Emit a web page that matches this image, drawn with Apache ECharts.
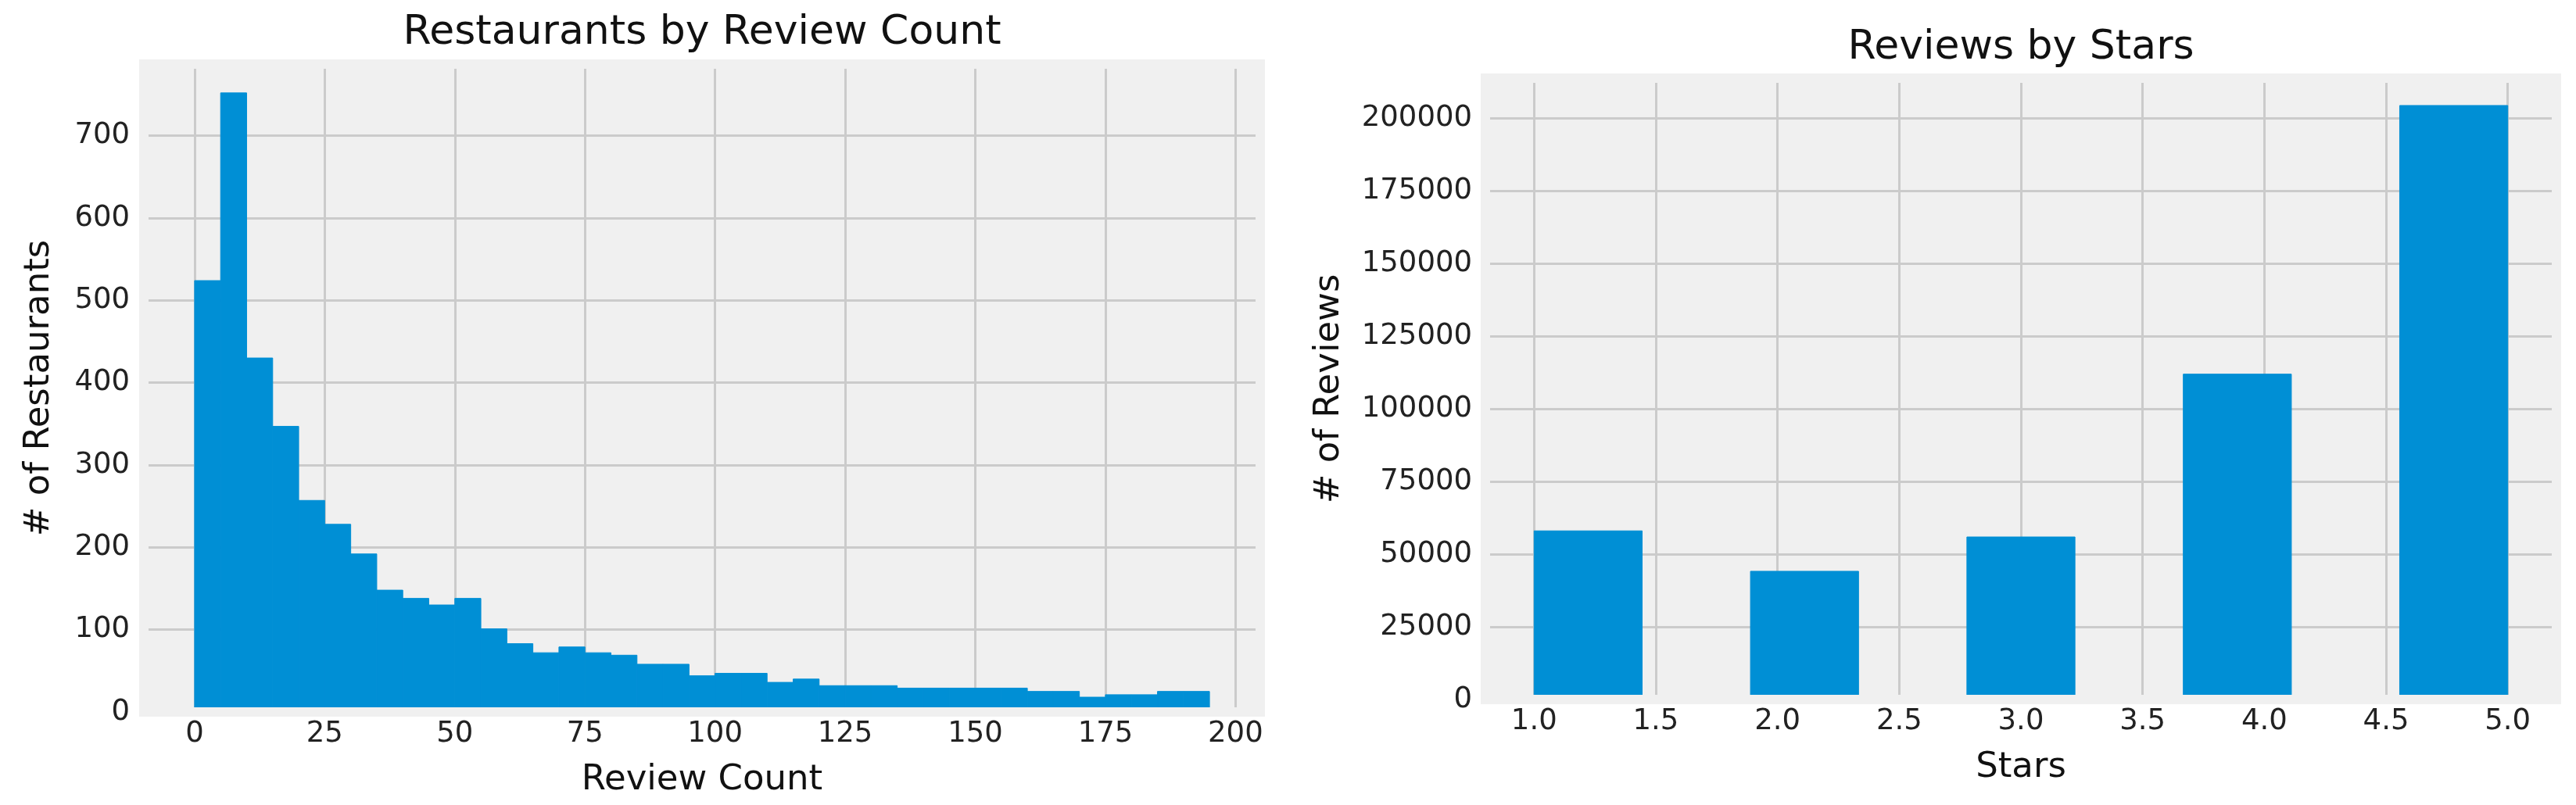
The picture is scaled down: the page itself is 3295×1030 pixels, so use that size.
<!DOCTYPE html>
<html>
<head>
<meta charset="utf-8">
<title>Restaurants by Review Count / Reviews by Stars</title>
<script src="https://cdn.jsdelivr.net/npm/echarts@6/dist/echarts.min.js"></script>
<style>
  html, body { margin: 0; padding: 0; background: #ffffff; }
  #chart { width: 3295px; height: 1030px; }
</style>
</head>
<body>
<div id="chart"></div>
<script>
// left panel: restaurants per review-count bin (bins of 5, 0..195)
const countBinEdges = [0, 5, 10, 15, 20, 25, 30, 35, 40, 45, 50, 55, 60, 65, 70, 75, 80, 85, 90, 95,
  100, 105, 110, 115, 120, 125, 130, 135, 140, 145, 150, 155, 160, 165, 170, 175, 180, 185, 190, 195];
const restaurantsPerBin = [524, 752, 430, 347, 257, 228, 192, 148, 138, 130, 138, 101, 83, 72, 79, 72, 69, 58, 58, 44,
  47, 47, 36, 40, 32, 32, 32, 29, 29, 29, 29, 29, 25, 25, 18, 21, 21, 25, 25];
const countTicks = [0, 25, 50, 75, 100, 125, 150, 175, 200];

// right panel: reviews per star bin (9 bins between 1 and 5)
const starBinEdges = [1, 1.444, 1.889, 2.333, 2.778, 3.222, 3.667, 4.111, 4.556, 5];
const reviewsPerBin = [58000, 0, 44100, 0, 55900, 0, 111900, 0, 204300];
const starTicks = [1.0, 1.5, 2.0, 2.5, 3.0, 3.5, 4.0, 4.5, 5.0];

const BAR = '#008fd5';
const PANEL = '#f0f0f0';
const GRIDLINE = '#cbcbcb';
const FONT = 'DejaVu Sans';

function binRows(edges, counts) {
  return counts.map((c, i) => [edges[i], edges[i + 1], c]);
}

function drawBin(params, api) {
  if (!api.value(2)) return null;
  const topLeft = api.coord([api.value(0), api.value(2)]);
  const bottomRight = api.coord([api.value(1), 0]);
  return {
    type: 'rect',
    shape: {
      x: topLeft[0],
      y: topLeft[1],
      width: bottomRight[0] - topLeft[0],
      height: bottomRight[1] - topLeft[1]
    },
    // same-colour stroke closes the hairline seams between neighbouring bins
    style: { fill: BAR, stroke: BAR, lineWidth: 1 }
  };
}

// thick panel-coloured frame, like the matplotlib spines
function spine(gridIndex, position) {
  return {
    type: 'value', gridIndex: gridIndex, position: position, min: 0, max: 1, z: 10,
    axisLine: { show: true, onZero: false, lineStyle: { color: PANEL, width: 12, cap: 'square' } },
    axisTick: { show: false }, axisLabel: { show: false }, splitLine: { show: false }
  };
}

const tickLabel = { color: '#222', fontFamily: FONT, fontSize: 37 };
const nameStyle = { color: '#111', fontFamily: FONT, fontSize: 45 };
const split = { show: true, lineStyle: { color: GRIDLINE, width: 3 } };

const chart = echarts.init(document.getElementById('chart'));
chart.setOption({
  backgroundColor: '#ffffff',
  animation: false,
  title: [
    { text: 'Restaurants by Review Count', left: 898, top: 42, padding: 0,
      textAlign: 'center', textVerticalAlign: 'middle',
      textStyle: { fontFamily: FONT, fontSize: 52, fontWeight: 'normal', color: '#111' } },
    { text: 'Reviews by Stars', left: 2585, top: 61, padding: 0,
      textAlign: 'center', textVerticalAlign: 'middle',
      textStyle: { fontFamily: FONT, fontSize: 52, fontWeight: 'normal', color: '#111' } }
  ],
  grid: [
    { left: 184, right: 1683, top: 82, bottom: 119, show: true, backgroundColor: PANEL, borderWidth: 0 },
    { left: 1900, right: 25, top: 100, bottom: 135, show: true, backgroundColor: PANEL, borderWidth: 0 }
  ],
  xAxis: [
    { type: 'value', gridIndex: 0, min: -9.75, max: 204.75,
      name: 'Review Count', nameLocation: 'middle', nameGap: 65, nameTextStyle: nameStyle,
      axisLine: { show: false, onZero: false }, axisTick: { show: false, customValues: countTicks },
      axisLabel: Object.assign({ margin: 10, customValues: countTicks }, tickLabel),
      splitLine: split },
    { type: 'value', gridIndex: 1, min: 0.8, max: 5.2,
      name: 'Stars', nameLocation: 'middle', nameGap: 65, nameTextStyle: nameStyle,
      axisLine: { show: false, onZero: false }, axisTick: { show: false, customValues: starTicks },
      axisLabel: Object.assign({ margin: 10, customValues: starTicks, formatter: v => v.toFixed(1) }, tickLabel),
      splitLine: split },
    spine(0, 'bottom'), spine(0, 'top'),
    spine(1, 'bottom'), spine(1, 'top')
  ],
  yAxis: [
    { type: 'value', gridIndex: 0, min: 0, max: 787, interval: 100,
      name: '# of Restaurants', nameLocation: 'middle', nameGap: 111, nameTextStyle: nameStyle,
      axisLine: { show: false, onZero: false }, axisTick: { show: false },
      axisLabel: Object.assign({ margin: 18, showMaxLabel: false, formatter: v => String(v) }, tickLabel),
      splitLine: split },
    { type: 'value', gridIndex: 1, min: 0, max: 213700, interval: 25000,
      name: '# of Reviews', nameLocation: 'middle', nameGap: 177, nameTextStyle: nameStyle,
      axisLine: { show: false, onZero: false }, axisTick: { show: false },
      axisLabel: Object.assign({ margin: 17, showMaxLabel: false, formatter: v => String(v) }, tickLabel),
      splitLine: split },
    spine(0, 'left'), spine(0, 'right'),
    spine(1, 'left'), spine(1, 'right')
  ],
  series: [
    { type: 'custom', xAxisIndex: 0, yAxisIndex: 0, renderItem: drawBin,
      encode: { x: [0, 1], y: 2 }, data: binRows(countBinEdges, restaurantsPerBin) },
    { type: 'custom', xAxisIndex: 1, yAxisIndex: 1, renderItem: drawBin,
      encode: { x: [0, 1], y: 2 }, data: binRows(starBinEdges, reviewsPerBin) }
  ]
});
</script>
</body>
</html>
